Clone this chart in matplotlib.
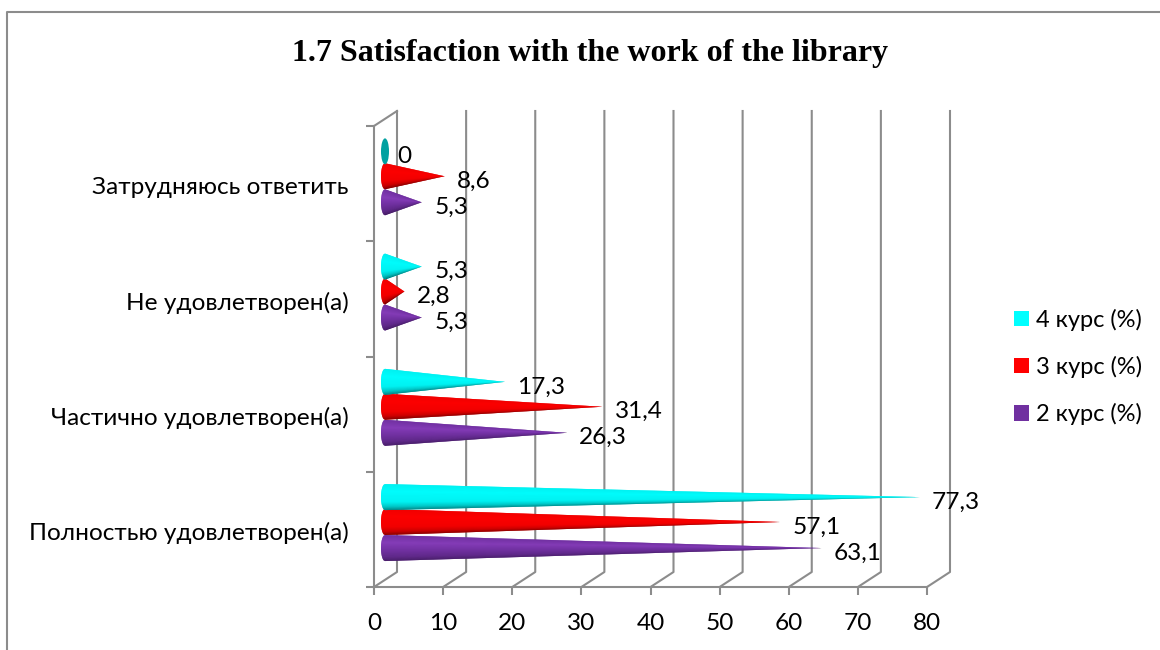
import numpy as np
import matplotlib
matplotlib.use("Agg")
import matplotlib.pyplot as plt
from matplotlib.collections import PolyCollection
from matplotlib.colors import LinearSegmentedColormap
from matplotlib.lines import Line2D
from matplotlib.patches import Ellipse, Patch, Polygon

plt.rcParams["font.family"] = ["Lato", "Noto Sans", "DejaVu Sans"]

categories = ["Полностью удовлетворен(а)", "Частично удовлетворен(а)",
              "Не удовлетворен(а)", "Затрудняюсь ответить"]
course_2 = [63.1, 26.3, 5.3, 5.3]
course_3 = [57.1, 31.4, 2.8, 8.6]
course_4 = [77.3, 17.3, 5.3, 0]
series_names = ["2 курс (%)", "3 курс (%)", "4 курс (%)"]
x_ticks = [0, 10, 20, 30, 40, 50, 60, 70, 80]

W, H = 1160, 650
GREY = "#8c8c8c"
LW = 1.5
FS = 17.6

fig = plt.figure(figsize=(W / 100, H / 100), dpi=100)
fig.add_artist(Line2D([7 / W, 7 / W, 1], [0, 1 - 12 / H, 1 - 12 / H], color=GREY, lw=LW))

ax = fig.add_axes([374 / W, 1 - 587 / H, (927 - 374) / W, (587 - 126) / H])
ax.set_xlim(0, 80)
ax.set_ylim(0, 4)
px_x = 80 / (927 - 374)
px_y = 4 / (587 - 126)
for s in ["top", "right"]:
    ax.spines[s].set_visible(False)
for s in ["left", "bottom"]:
    ax.spines[s].set_color(GREY)
    ax.spines[s].set_linewidth(LW)

# 3d walls
dx, dy = 23 * px_x, 15 * px_y
for t in x_ticks:
    ax.plot([t, t + dx, t + dx], [0, dy, 4 + dy], color=GREY, lw=LW, clip_on=False, zorder=1)
ax.plot([0, dx], [4, 4 + dy], color=GREY, lw=LW, clip_on=False, zorder=1)

ax.set_xticks(x_ticks)
ax.set_yticks(range(5))
ax.set_yticklabels([])
ax.set_yticks(np.arange(4) + 0.5 - 2 * px_y, categories, minor=True)
ax.tick_params(axis="both", which="major", length=5.5, width=LW, color=GREY, labelsize=FS, pad=12)
ax.tick_params(axis="x", which="major", pad=13.5)
ax.tick_params(axis="y", which="minor", length=0, labelsize=FS, pad=18)

cmaps = {
    "2": LinearSegmentedColormap.from_list(
        "p", [(0, "#7030a0"), (0.3, "#8a3fbe"), (0.6, "#7030a0"), (0.85, "#5a2682"), (1, "#3f1a5c")]),
    "3": LinearSegmentedColormap.from_list(
        "r", [(0, "#f00000"), (0.3, "#ff0000"), (0.7, "#f00000"), (0.88, "#c00000"), (1, "#700000")]),
    "4": LinearSegmentedColormap.from_list(
        "c", [(0, "#00f0f0"), (0.3, "#00ffff"), (0.7, "#00f0f0"), (0.88, "#00b8b8"), (1, "#006e6e")]),
}
series = [("2", course_2, 0.338), ("3", course_3, 0.564), ("4", course_4, 0.78)]
base_x = 11 * px_x
rx, ry = 4 * px_x, 13 * px_y
ts = np.linspace(-1, 1, 41)
for key, values, off in series:
    for i, v in enumerate(values):
        yc = i + off
        if v == 0:
            ax.add_patch(Ellipse((base_x, yc), 2 * rx, 2 * ry, fc="#00a0a0", ec="none",
                                 clip_on=False, zorder=3))
        else:
            tip = (base_x + v, yc)
            px = base_x - rx * np.sqrt(1 - ts ** 2)
            py = yc + ry * ts
            # solid cone underneath so the wedges leave no seams
            ax.add_patch(Polygon(list(zip(px, py)) + [tip], fc=cmaps[key](0.55), ec="none",
                                 clip_on=False, zorder=3))
            polys = [[(px[j], py[j]), (px[j + 1], py[j + 1]), tip] for j in range(len(ts) - 1)]
            cols = cmaps[key](1 - (ts[:-1] + 1) / 2)
            ax.add_collection(PolyCollection(polys, facecolors=cols, edgecolors="none",
                                             zorder=3, clip_on=False))
        ax.annotate(str(v).replace(".", ",") if v else "0", (base_x + v, yc),
                    xytext=(9, -3.6), textcoords="offset points", va="center", ha="left",
                    fontsize=FS, zorder=4)

handles = [Patch(fc="#00ffff", label=series_names[2]),
           Patch(fc="#ff0000", label=series_names[1]),
           Patch(fc="#7030a0", label=series_names[0])]
fig.legend(handles=handles, loc="center left", bbox_to_anchor=(1007 / W, 1 - 367 / H),
           frameon=False, fontsize=17, handlelength=0.63, handleheight=0.63,
           handletextpad=0.28, labelspacing=1.06, borderpad=0, borderaxespad=0.3)

fig.text(590 / W, 1 - 53 / H, "1.7 Satisfaction with the work of the library",
         family="Liberation Serif", weight="bold", fontsize=23, ha="center", va="center")

fig.savefig("out.png", dpi=100)
